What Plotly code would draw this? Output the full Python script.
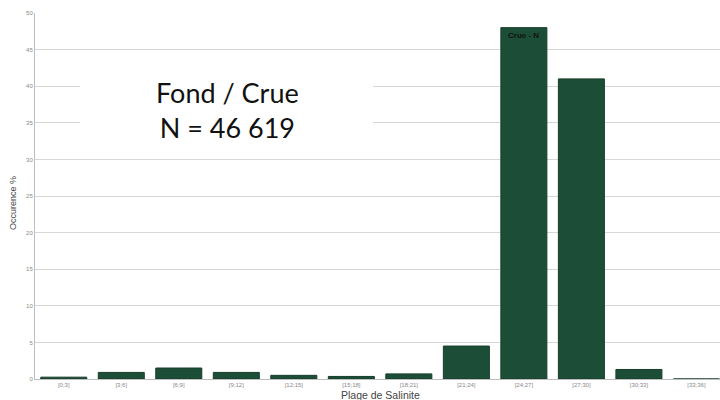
import plotly.graph_objects as go

categories = ["[0;3]", "[3;6]", "[6;9]", "[9;12]", "[12;15]", "[15;18]",
              "[18;21]", "[21;24]", "[24;27]", "[27;30]", "[30;33]", "[33;36]"]
occurrence = [0.25, 0.9, 1.5, 0.9, 0.5, 0.35, 0.7, 4.5, 48.0, 41.0, 1.3, 0.0]
y_ticks = [0, 5, 10, 15, 20, 25, 30, 35, 40, 45, 50]

L, T, B = 35, 13, 21
PW, PH = 720 - L, 400 - T - B


def px(x):
    return (x - L) / PW


def py(y):
    return (400 - B - y) / PH


fig = go.Figure()
fig.add_trace(go.Bar(
    x=categories, y=occurrence,
    marker=dict(color="#1c4e37", line=dict(color="#163d2b", width=1)),
    width=0.8,
))

fig.update_layout(
    width=720, height=400,
    margin=dict(l=L, r=0, t=T, b=B, autoexpand=False),
    paper_bgcolor="white", plot_bgcolor="white",
    showlegend=False,
    font=dict(family="Liberation Sans, Arial, sans-serif", color="#555"),
    xaxis=dict(
        type="category", range=[-0.5, 11.41], automargin=False,
        showline=True, linecolor="#bdbdbd", linewidth=1,
        ticks="", tickfont=dict(size=6, color="#888"), ticklabelstandoff=0,
        showgrid=False,
    ),
    yaxis=dict(
        range=[0, 50], tickvals=y_ticks, automargin=False,
        showgrid=True, gridcolor="#d6d6d6", gridwidth=1,
        showline=True, linecolor="#bdbdbd", linewidth=1,
        ticks="", tickfont=dict(size=6, color="#888"),
        zeroline=False,
    ),
)

# axis titles
fig.add_annotation(xref="paper", yref="paper", x=px(380), y=py(394.5),
                   xanchor="center", yanchor="middle", showarrow=False,
                   text="Plage de Salinite", font=dict(size=10.5, color="#444"))
fig.add_annotation(xref="paper", yref="paper", x=px(13), y=py(203),
                   xanchor="center", yanchor="middle", showarrow=False, textangle=-90,
                   text="Occurence %", font=dict(size=9, color="#444"))

# white box behind main annotation
fig.add_shape(type="rect", xref="paper", yref="paper",
              x0=px(80), x1=px(373), y0=py(145), y1=py(68),
              fillcolor="white", line=dict(width=0), layer="above")
fig.add_annotation(xref="paper", yref="paper",
                   x=px(227), y=py(110), xanchor="center", yanchor="middle",
                   text="Fond / Crue<br>N = 46 619", showarrow=False,
                   font=dict(family="Lato, Open Sans, sans-serif", size=27, color="#111"),
                   align="center")

fig.add_annotation(x=categories[8], y=48, yanchor="top", xanchor="center", yshift=-1,
                   text="<b>Crue - N</b>", showarrow=False,
                   font=dict(size=8, color="#111"))

fig.write_html("out.html", config={"displayModeBar": False},
               post_script="document.body.style.margin='0';document.body.style.overflow='hidden';")
